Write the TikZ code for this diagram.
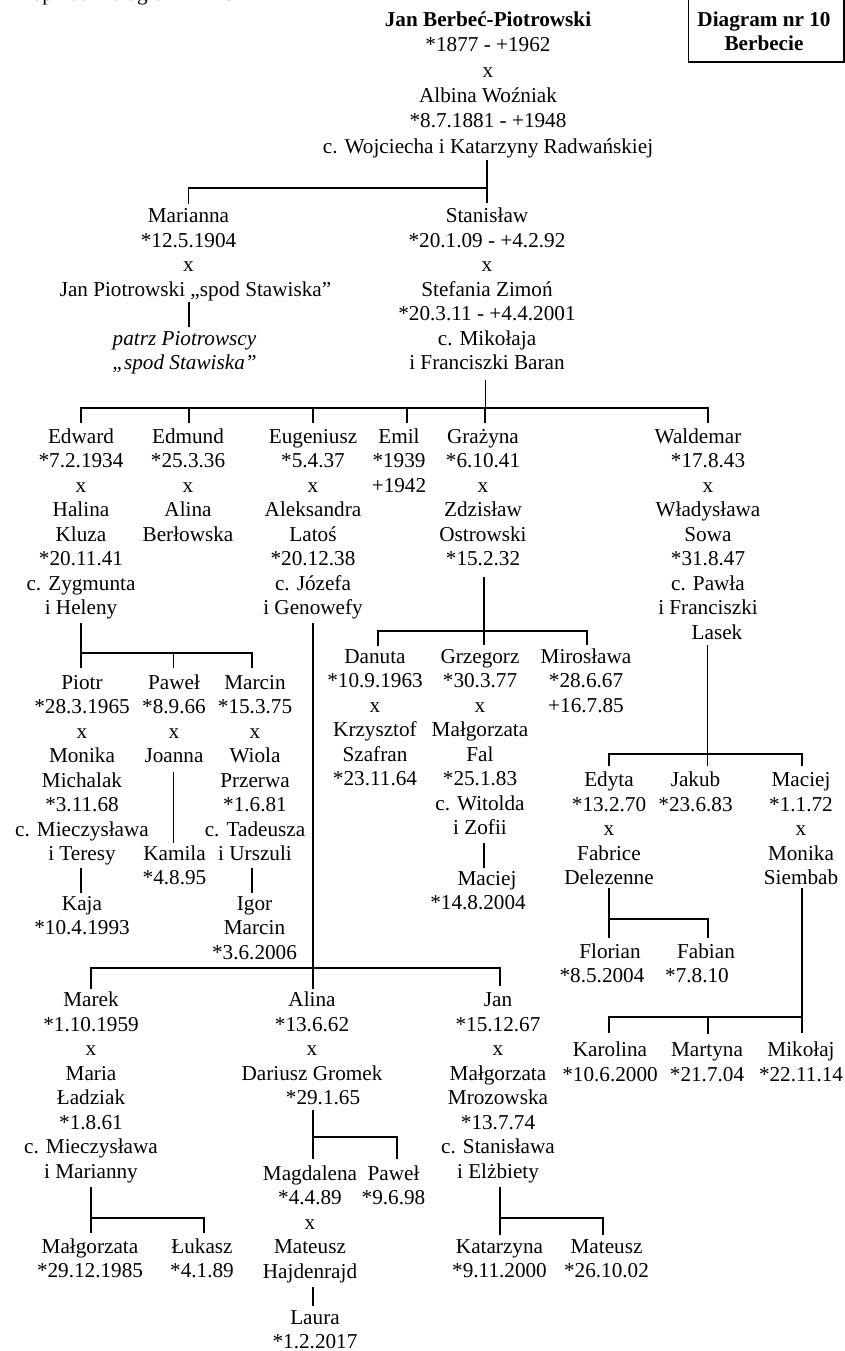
\documentclass[tikz,border=0pt]{standalone}
\usepackage{fontspec}
\setmainfont{Liberation Serif}
\begin{document}
\begin{tikzpicture}[x=1pt,y=-1pt,
  person/.style={anchor=base,align=center,inner sep=0pt,outer sep=0pt,font=\fontsize{21.2}{24.5}\selectfont},
  conn/.style={line width=1.8pt,line join=miter}]
\useasboundingbox (0,0) rectangle (845,1351);
% (each person node is placed at the baseline of its LAST line)
% ---------------- header
\node[person,anchor=base west] (prev) at (20,0.5) {Poprzedni diagram – nr 9};
\node[draw,line width=1.8pt,outer sep=0pt,inner sep=0pt,minimum width=155.3pt,minimum height=100pt,anchor=south] (frame) at (766.15,62) {};
\node[person,font=\bfseries\fontsize{21.2}{23.5}\selectfont] (dbox) at (764,50.2) {Diagram nr 10\\Berbecie};
% ---------------- generation 1
\node[person,font=\fontsize{21.2}{25.3}\selectfont] (jan) at (488,153.2) {\textbf{Jan Berbeć-Piotrowski}\\{}*1877 - +1962\\x\\Albina Woźniak\\{}*8.7.1881 - +1948\\c. Wojciecha i Katarzyny Radwańskiej};
% ---------------- generation 2
\node[person] (marianna) at (188.5,296.2) {Marianna\\{}*12.5.1904\\x\\\hspace*{14pt}Jan Piotrowski „spod Stawiska”};
\node[person] (patrz) at (184.5,369.5) {\textit{patrz Piotrowscy}\\\textit{„spod Stawiska”}};
\node[person] (stanislaw) at (487,369.7) {Stanisław\\{}*20.1.09 - +4.2.92\\x\\Stefania Zimoń\\{}*20.3.11 - +4.4.2001\\c. Mikołaja\\i Franciszki Baran};
% ---------------- generation 3
\node[person] (edward) at (81,614.8) {Edward\\{}*7.2.1934\\x\\Halina\\Kluza\\{}*20.11.41\\c. Zygmunta\\i Heleny};
\node[person] (edmund) at (188,541.3) {Edmund\\{}*25.3.36\\x\\Alina\\Berłowska};
\node[person] (eugeniusz) at (313,614.8) {Eugeniusz\\{}*5.4.37\\x\\Aleksandra\\Latoś\\{}*20.12.38\\c. Józefa\\i Genowefy};
\node[person] (emil) at (399,492.3) {Emil\\{}*1939\\+1942};
\node[person] (grazyna) at (483,565.8) {Grażyna\\{}*6.10.41\\x\\Zdzisław\\Ostrowski\\{}*15.2.32};
\node[person] (waldemar) at (708,639.3) {Waldemar\hspace*{20pt}\\{}*17.8.43\\x\\Władysława\\Sowa\\{}*31.8.47\\c. Pawła\\i Franciszki\\\hspace*{18pt}Lasek};
% ---------------- generation 4
\node[person] (piotr) at (82,860.8) {Piotr\\{}*28.3.1965\\x\\Monika\\Michalak\\{}*3.11.68\\c. Mieczysława\\i Teresy};
\node[person] (pawel) at (174,762.8) {Paweł\\{}*8.9.66\\x\\Joanna};
\node[person] (marcin) at (255,860.8) {Marcin\\{}*15.3.75\\x\\Wiola\\Przerwa\\{}*1.6.81\\c. Tadeusza\\i Urszuli};
\node[person] (kaja) at (82,934.5) {Kaja\\{}*10.4.1993};
\node[person] (kamila) at (174.5,884.5) {Kamila\\{}*4.8.95};
\node[person] (igor) at (254.5,959) {Igor\\Marcin\\{}*3.6.2006};
\node[person] (danuta) at (375,785.8) {Danuta\\{}*10.9.1963\\x\\Krzysztof\\Szafran\\{}*23.11.64};
\node[person] (grzegorz) at (480,834.8) {Grzegorz\\{}*30.3.77\\x\\Małgorzata\\Fal\\{}*25.1.83\\c. Witolda\\i Zofii};
\node[person] (miroslawa) at (586,712.3) {Mirosława\\{}*28.6.67\\+16.7.85};
\node[person] (maciejg) at (478,909.5) {\hspace*{18pt}Maciej\\{}*14.8.2004};
\node[person] (edyta) at (609,884.7) {Edyta\\{}*13.2.70\\x\\Fabrice\\Delezenne};
\node[person] (jakub) at (695.5,811.2) {Jakub\\{}*23.6.83};
\node[person] (maciejw) at (801,884.7) {Maciej\\{}*1.1.72\\x\\Monika\\Siembab};
\node[person] (florian) at (602,982.8) {\hspace*{16pt}Florian\\{}*8.5.2004};
\node[person] (fabian) at (697,982.8) {\hspace*{18pt}Fabian\\{}*7.8.10};
\node[person] (karolina) at (610,1081.2) {Karolina\\{}*10.6.2000};
\node[person] (martyna) at (707,1081.2) {Martyna\\{}*21.7.04};
\node[person] (mikolaj) at (801,1081.2) {Mikołaj\\{}*22.11.14};
\node[person] (marek) at (91,1178.2) {Marek\\{}*1.10.1959\\x\\Maria\\Ładziak\\{}*1.8.61\\c. Mieczysława\\i Marianny};
\node[person] (alina) at (312,1104.7) {Alina\\{}*13.6.62\\x\\Dariusz Gromek\\\hspace*{22pt}*29.1.65};
\node[person] (jang) at (498,1178.2) {Jan\\{}*15.12.67\\x\\Małgorzata\\Mrozowska\\{}*13.7.74\\c. Stanisława\\i Elżbiety};
% ---------------- generation 5
\node[person] (malgorzata) at (90,1277.8) {Małgorzata\\{}*29.12.1985};
\node[person] (lukasz) at (202,1277.8) {Łukasz\\{}*4.1.89};
\node[person] (magdalena) at (310,1278) {Magdalena\\{}*4.4.89\\x\\Mateusz\\Hajdenrajd};
\node[person] (pawelg) at (393.5,1204.5) {Paweł\\{}*9.6.98};
\node[person] (laura) at (315,1348.5) {Laura\\{}*1.2.2017};
\node[person] (katarzyna) at (499.5,1277.8) {Katarzyna\\{}*9.11.2000};
\node[person] (mateusz) at (606.5,1277.8) {Mateusz\\{}*26.10.02};
% ---------------- bar junctions
\coordinate (b-jan) at (487,188);
\coordinate (b-stan) at (485.5,408);
\coordinate (b-edw) at (81,652.7);
\coordinate (b-eug) at (313,968.3);
\coordinate (b-gra) at (484,630.7);
\coordinate (b-wal) at (707.5,754);
\coordinate (b-edy) at (609,919.3);
\coordinate (b-mac) at (801.7,1017.3);
\coordinate (b-mar) at (90.7,1218.3);
\coordinate (b-ali) at (313,1136.7);
\coordinate (b-jan2) at (500,1217.7);
% ---------------- connectors
% Jan -> Marianna, Stanislaw
\draw[conn,shorten <=2pt] (jan.south -| b-jan) -- (b-jan);
\draw[conn,shorten >=5pt] (b-jan) -| (marianna.north);
\draw[conn,shorten >=5pt] (b-jan) -| (stanislaw.north);
% Marianna -> patrz
\draw[conn,shorten <=1.5pt,shorten >=4pt] ([xshift=0.5pt]marianna.south) -- ([xshift=0.5pt]marianna.south |- patrz.north);
% Stanislaw -> children
\draw[conn,shorten <=10pt] (stanislaw.south -| b-stan) -- (b-stan);
\draw[conn,shorten >=5.8pt] (b-stan) -| (edward.north);
\draw[conn,shorten >=5.8pt] (b-stan) -| ([xshift=0.7pt]edmund.north);
\draw[conn,shorten >=5.8pt] (b-stan) -| (eugeniusz.north);
\draw[conn,shorten >=5.8pt] (b-stan) -| ([xshift=8pt]emil.north);
\draw[conn,shorten >=5.8pt] (b-stan) -| ([xshift=2pt]grazyna.north);
\draw[conn,shorten >=5.8pt] (b-stan) -| (waldemar.north);
% Edward -> children
\draw[conn,shorten <=3.6pt] (edward.south -| b-edw) -- (b-edw);
\draw[conn,shorten >=7pt] (b-edw) -| ([xshift=-1pt]piotr.north);
\draw[conn,shorten >=7pt] (b-edw) -| ([xshift=-0.5pt]pawel.north);
\draw[conn,shorten >=7pt] (b-edw) -| ([xshift=-2.7pt]marcin.north);
% single lines
\draw[conn,shorten <=2.6pt,shorten >=3pt] ([xshift=-1pt]piotr.south) -- ([xshift=-1pt]piotr.south |- kaja.north);
\draw[conn,shorten <=9pt,shorten >=2.5pt] ([xshift=-0.5pt]pawel.south) -- ([xshift=-0.5pt]pawel.south |- kamila.north);
\draw[conn,shorten <=7pt,shorten >=3pt] ([xshift=-2.7pt]marcin.south) -- ([xshift=-2.7pt]marcin.south |- igor.north);
% Eugeniusz -> children
\draw[conn,shorten <=3.6pt] (eugeniusz.south -| b-eug) -- (b-eug);
\draw[conn,shorten >=3pt] (b-eug) -| ([xshift=-0.3pt]marek.north);
\draw[conn,shorten >=3pt] (b-eug) -| ([xshift=1pt]alina.north);
\draw[conn,shorten >=7pt] (b-eug) -| ([xshift=2pt]jang.north);
% Grazyna -> children
\draw[conn,shorten <=11pt] (grazyna.south -| b-gra) -- (b-gra);
\draw[conn,shorten >=3.8pt] (b-gra) -| ([xshift=3pt]danuta.north);
\draw[conn,shorten >=3.8pt] (b-gra) -| ([xshift=4pt]grzegorz.north);
\draw[conn,shorten >=3.8pt] (b-gra) -| ([xshift=1pt]miroslawa.north);
\draw[conn,shorten <=8pt,shorten >=2.5pt] ([xshift=4pt]grzegorz.south) -- ([xshift=4pt]grzegorz.south |- maciejg.north);
% Waldemar -> children
\draw[conn,shorten <=5.7pt] (waldemar.south -| b-wal) -- (b-wal);
\draw[conn,shorten >=6.2pt] (b-wal) -| (edyta.north);
\draw[conn,shorten >=6.2pt] (b-wal) -| ([xshift=12pt]jakub.north);
\draw[conn,shorten >=6.2pt] (b-wal) -| ([xshift=0.7pt]maciejw.north);
% Edyta -> children
\draw[conn,shorten <=3.3pt] (edyta.south -| b-edy) -- (b-edy);
\draw[conn,shorten >=5.8pt] (b-edy) -| ([xshift=7pt]florian.north);
\draw[conn,shorten >=5.8pt] (b-edy) -| ([xshift=11pt]fabian.north);
% Maciej -> children
\draw[conn,shorten <=3.3pt] (maciejw.south -| b-mac) -- (b-mac);
\draw[conn,shorten >=9pt] (b-mac) -| ([xshift=-1pt]karolina.north);
\draw[conn,shorten >=9pt] (b-mac) -| ([xshift=1pt]martyna.north);
\draw[conn,shorten >=9pt] (b-mac) -| ([xshift=0.7pt]mikolaj.north);
% Marek -> children
\draw[conn,shorten <=3.9pt] (marek.south -| b-mar) -- (b-mar);
\draw[conn,shorten >=5.3pt] (b-mar) -| ([xshift=0.7pt]malgorzata.north);
\draw[conn,shorten >=5.3pt] (b-mar) -| ([xshift=2pt]lukasz.north);
% Alina -> children
\draw[conn,shorten <=5pt] (alina.south -| b-ali) -- (b-ali);
\draw[conn,shorten >=6.2pt] (b-ali) -| ([xshift=3pt]magdalena.north);
\draw[conn,shorten >=6.2pt] (b-ali) -| ([xshift=3.5pt]pawelg.north);
\draw[conn,shorten <=4.7pt,shorten >=4.5pt] ([xshift=3pt]magdalena.south) -- ([xshift=3pt]magdalena.south |- laura.north);
% Jan -> children
\draw[conn,shorten <=3.9pt] (jang.south -| b-jan2) -- (b-jan2);
\draw[conn,shorten >=4.8pt] (b-jan2) -| ([xshift=0.5pt]katarzyna.north);
\draw[conn,shorten >=4.8pt] (b-jan2) -| ([xshift=-3.8pt]mateusz.north);
\end{tikzpicture}
\end{document}
